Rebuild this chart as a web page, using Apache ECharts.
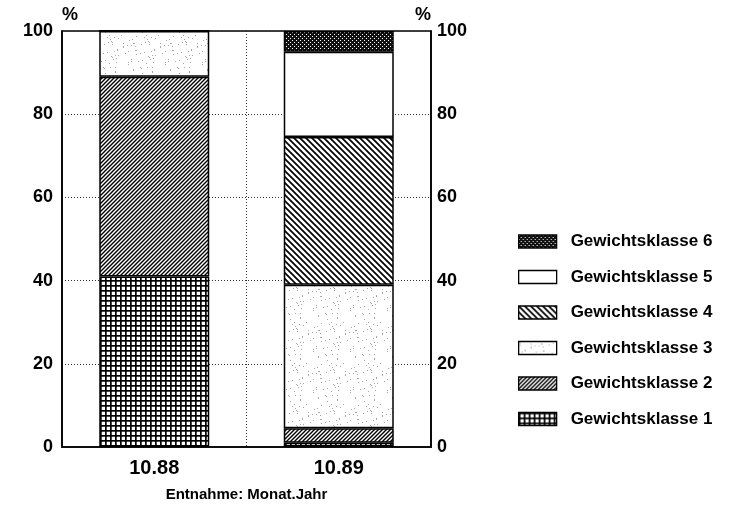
<!DOCTYPE html>
<html>
<head>
<meta charset="utf-8">
<script src="https://cdn.jsdelivr.net/npm/echarts@6/dist/echarts.min.js"></script>
<style>html,body{margin:0;padding:0;background:#fff}#c{width:737px;height:508px}</style>
</head>
<body>
<div id="c"></div>
<script>
var categories = ['10.88', '10.89'];
var seriesNames = ['Gewichtsklasse 1', 'Gewichtsklasse 2', 'Gewichtsklasse 3', 'Gewichtsklasse 4', 'Gewichtsklasse 5', 'Gewichtsklasse 6'];
var g1 = [41, 1];
var g2 = [48, 3.5];
var g3 = [11, 34.5];
var g4 = [0, 35.5];
var g5 = [0, 20.5];
var g6 = [0, 5];
var yTicks = [0, 20, 40, 60, 80, 100];

function mk(w, h, draw) {
  var c = document.createElement('canvas');
  c.width = w; c.height = h;
  var ctx = c.getContext('2d');
  ctx.fillStyle = '#fff'; ctx.fillRect(0, 0, w, h);
  draw(ctx, w, h);
  return { image: c, repeat: 'repeat' };
}
var pGrid = mk(5, 5, function (ctx) {
  ctx.fillStyle = '#000';
  ctx.fillRect(0, 0, 5, 1.7);
  ctx.fillRect(0, 0, 1.7, 5);
});
var pSlash = mk(4, 4, function (ctx) {
  ctx.strokeStyle = '#000'; ctx.lineWidth = 1.4;
  ctx.beginPath();
  ctx.moveTo(-1, 5); ctx.lineTo(5, -1);
  ctx.moveTo(-1, 1); ctx.lineTo(1, -1);
  ctx.moveTo(3, 5); ctx.lineTo(5, 3);
  ctx.stroke();
});
var pBack = mk(6, 6, function (ctx) {
  ctx.strokeStyle = '#000'; ctx.lineWidth = 1.7;
  ctx.beginPath();
  ctx.moveTo(-1, -1); ctx.lineTo(7, 7);
  ctx.moveTo(-1, 5); ctx.lineTo(1, 7);
  ctx.moveTo(5, -1); ctx.lineTo(7, 1);
  ctx.stroke();
});
var pDots = mk(37, 41, function (ctx, w, h) {
  ctx.fillStyle = '#a8a8a8';
  var s = 7;
  for (var i = 0; i < 55; i++) {
    s = (s * 31 + 17) % 997;
    var x = s % w;
    s = (s * 31 + 17) % 997;
    var y = s % h;
    ctx.fillRect(x, y, 1, 1);
  }
});
var pCheck = mk(4, 4, function (ctx) {
  ctx.fillStyle = '#111';
  ctx.fillRect(0, 0, 4, 4);
  ctx.fillStyle = '#fff';
  ctx.fillRect(0, 0, 1, 1);
  ctx.fillRect(2, 2, 1, 1);
});
var fills = [pGrid, pSlash, pDots, pBack, '#ffffff', pCheck];
var values = [g1, g2, g3, g4, g5, g6];

var font = 'Liberation Sans';
var chart = echarts.init(document.getElementById('c'), null, { renderer: 'canvas' });
var series = values.map(function (v, i) {
  return {
    name: seriesNames[i], type: 'bar', stack: 'all', data: v,
    barWidth: 110,
    itemStyle: { color: fills[i], borderColor: '#000', borderWidth: 1.5 },
    emphasis: { disabled: true }
  };
});
function yAxis(pos, align) {
  return {
    type: 'value', position: pos, min: 0, max: 100, interval: 20,
    name: '%', nameLocation: 'end', nameGap: 7,
    nameTextStyle: { color: '#000', fontFamily: font, fontWeight: 'bold', fontSize: 18, align: align, padding: 0 },
    axisLine: { show: true, lineStyle: { color: '#000', width: 1.6 } },
    axisTick: { show: false },
    axisLabel: {
      color: '#000', fontFamily: font, fontWeight: 'bold', fontSize: 18,
      margin: pos === 'left' ? 9 : 6,
      formatter: function (v) { return yTicks.indexOf(v) >= 0 ? String(v) : ''; }
    },
    splitLine: { show: pos === 'left', lineStyle: { color: '#333', type: [1, 2], width: 1 } }
  };
}
chart.setOption({
  animation: false,
  backgroundColor: '#fff',
  grid: { left: 62, right: 306, top: 31, bottom: 61, show: true, borderColor: '#000', borderWidth: 1.6, backgroundColor: 'transparent' },
  xAxis: {
    type: 'category', data: categories,
    name: 'Entnahme: Monat.Jahr', nameLocation: 'middle', nameGap: 40,
    nameTextStyle: { color: '#000', fontFamily: font, fontWeight: 'bold', fontSize: 15 },
    axisLine: { show: true, lineStyle: { color: '#000', width: 1.6 } },
    axisTick: { show: false },
    axisLabel: { color: '#000', fontFamily: font, fontWeight: 'bold', fontSize: 20, margin: 11 },
    splitLine: { show: true, lineStyle: { color: '#333', type: [1, 2], width: 1 } }
  },
  yAxis: [yAxis('left', 'left'), yAxis('right', 'right')],
  legend: {
    orient: 'vertical', left: 513, top: 228,
    data: seriesNames.slice().reverse(),
    itemWidth: 38, itemHeight: 13, itemGap: 18.5,
    icon: 'rect',
    itemStyle: { borderColor: '#000', borderWidth: 1.3 },
    textStyle: { color: '#000', fontFamily: font, fontWeight: 'bold', fontSize: 17, lineHeight: 17, padding: [0, 0, 0, 9] }
  },
  series: series
});
</script>
</body>
</html>
